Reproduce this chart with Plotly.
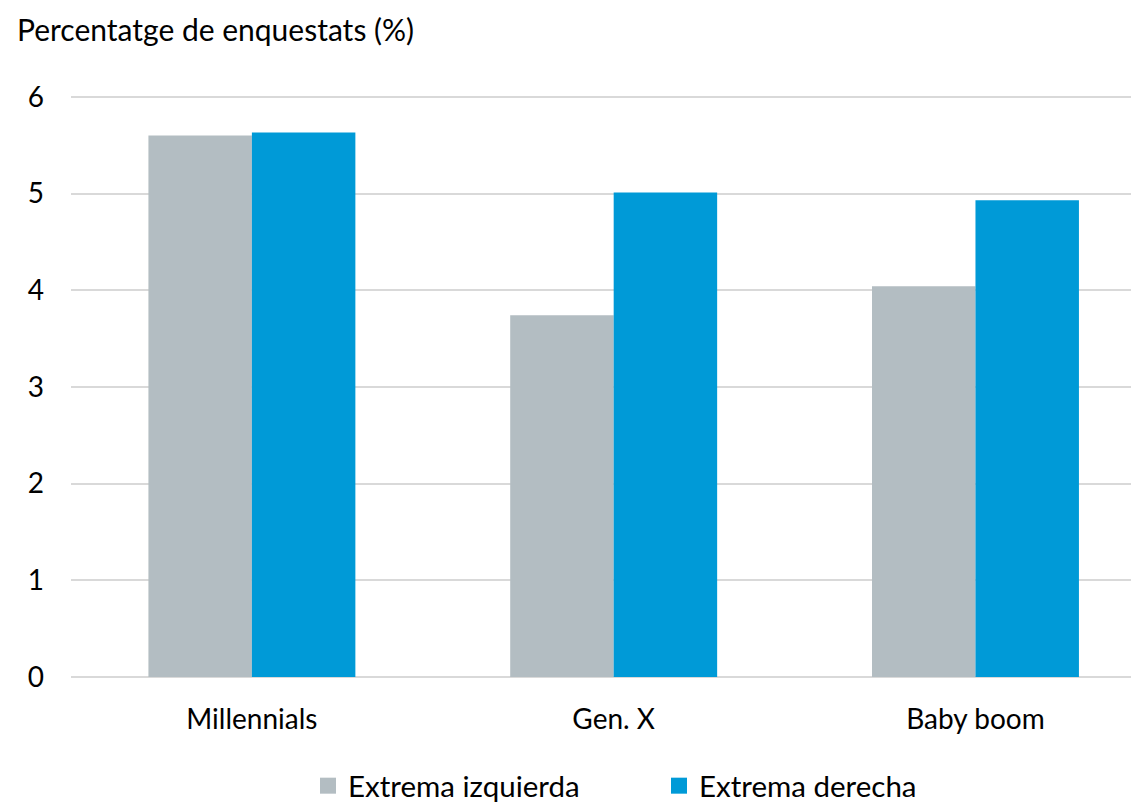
import plotly.graph_objects as go

categories = ["Millennials", "Gen. X", "Baby boom"]
series_names = ["Extrema izquierda", "Extrema derecha"]
izquierda = [5.60, 3.74, 4.04]
derecha = [5.63, 5.01, 4.93]
y_ticks = [0, 1, 2, 3, 4, 5, 6]
colors = ["#B3BDC2", "#009AD7"]

FONT = "Lato, Open Sans, sans-serif"

# page body has an 8px default margin, so the figure is sized to fit the window
W, H = 1131, 794
L, R, T, B = 63, 0, 84, 125
PW, PH = W - L - R, H - T - B

fig = go.Figure()
for name, vals, col in zip(series_names, [izquierda, derecha], colors):
    fig.add_trace(go.Bar(x=categories, y=vals, name=name, marker_color=col,
                         marker_line_width=0, showlegend=False))
# legend entries with larger square swatches
for name, col in zip(series_names, colors):
    fig.add_trace(go.Scatter(x=[None], y=[None], mode="markers", name=name,
                             marker=dict(symbol="square", size=20, color=col)))

fig.update_layout(
    width=W, height=H,
    margin=dict(l=L, r=R, t=T, b=B, autoexpand=False),
    paper_bgcolor="white", plot_bgcolor="white",
    barmode="group", bargap=0.428, bargroupgap=0,
    font=dict(family=FONT, size=28, color="#000000"),
    showlegend=True,
    legend=dict(orientation="h", x=(300 - L) / PW, xanchor="left",
                y=-(752 - (T + PH)) / PH, yanchor="top",
                font=dict(size=29.5), entrywidth=306, itemsizing="trace"),
    annotations=[dict(text="Percentatge de enquestats (%)", xref="paper", yref="paper",
                      x=(7 - L) / PW, y=1 + (T - 1) / PH, xanchor="left", yanchor="top",
                      showarrow=False, font=dict(size=30))],
)
fig.update_xaxes(range=[-0.5, 2.452], showgrid=False, showline=False, ticks="",
                 tickfont=dict(size=28), ticklabelstandoff=23, automargin=False)
fig.update_yaxes(range=[0, 6.05], tickvals=y_ticks, showgrid=True, gridcolor="#D9D9D9", gridwidth=2,
                 zeroline=True, zerolinecolor="#D9D9D9", zerolinewidth=2, showline=False,
                 ticks="", tickfont=dict(size=28), ticklabelstandoff=26, automargin=False)

fig.write_html("out.html")
